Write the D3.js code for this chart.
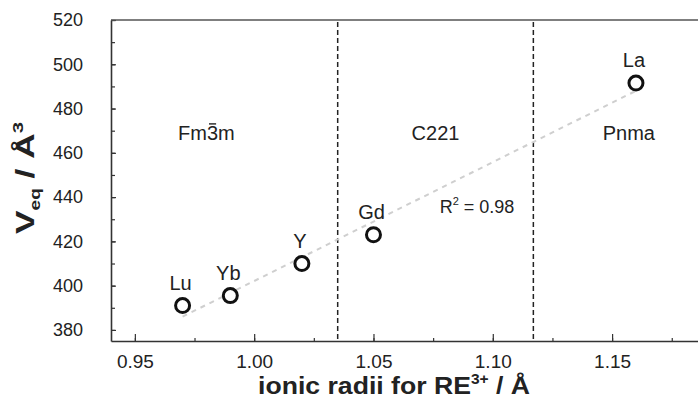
<!DOCTYPE html>
<html>
<head>
<meta charset="utf-8">
<script src="https://cdn.jsdelivr.net/npm/d3@7"></script>
<style>
  body { margin: 0; background: #fff; }
  text { font-family: "Liberation Sans", Arial, sans-serif; }
</style>
</head>
<body>
<script>
// data
let elements = ['Lu', 'Yb', 'Y', 'Gd', 'La'];
let radii = [0.97, 0.99, 1.02, 1.05, 1.16];
let volumes = [391, 395.5, 410, 423, 491.5];
let trendX = [0.97, 1.16];
let trendY = [386, 488];
let phaseBounds = [1.035, 1.117];
let phaseNames = ['Fm3m', 'C221', 'Pnma'];
let phaseX = [0.98, 1.076, 1.157];
let phaseY = [469, 469, 469];
let xTicks = [0.95, 1.00, 1.05, 1.10, 1.15];
let yTicks = [380, 400, 420, 440, 460, 480, 500, 520];

let width = 698;
let height = 405;
let svg = d3.select('body').append('svg')
    .attr('width', width)
    .attr('height', height);

let x = d3.scaleLinear().domain([0.94, 1.186]).range([111, 698]);
let y = d3.scaleLinear().domain([375, 520]).range([341, 20]);

// minor ticks
svg.append('g')
    .attr('transform', 'translate(0,341)')
    .call(d3.axisBottom(x).tickValues(d3.range(0.95, 1.186, 0.025)).tickSize(-3).tickFormat(''))
    .call(g => g.select('.domain').remove());
svg.append('g')
    .attr('transform', 'translate(111,0)')
    .call(d3.axisLeft(y).tickValues(d3.range(380, 521, 10)).tickSize(-4).tickFormat(''))
    .call(g => g.select('.domain').remove());

// major ticks + labels
let xAxis = svg.append('g')
    .attr('transform', 'translate(0,341)')
    .call(d3.axisBottom(x).tickValues(xTicks).tickSizeInner(-7).tickSizeOuter(0)
        .tickPadding(14).tickFormat(d3.format('.2f')));
xAxis.selectAll('text').attr('font-size', 19).attr('fill', '#222');

let yAxis = svg.append('g')
    .attr('transform', 'translate(111,0)')
    .call(d3.axisLeft(y).tickValues(yTicks).tickSizeInner(-5).tickSizeOuter(0).tickPadding(28));
yAxis.selectAll('text').attr('font-size', 18).attr('fill', '#222');

svg.selectAll('.domain').attr('stroke', '#333').attr('stroke-width', 1.6);
svg.selectAll('.tick line').attr('stroke', '#333').attr('stroke-width', 1.2);

// top border
svg.append('line')
    .attr('x1', x.range()[0]).attr('x2', x.range()[1])
    .attr('y1', y(520)).attr('y2', y(520))
    .attr('stroke', '#555').attr('stroke-width', 1.6);

// phase boundaries
svg.selectAll('.bound')
    .data(phaseBounds)
    .join('line')
    .attr('class', 'bound')
    .attr('x1', d => x(d)).attr('x2', d => x(d))
    .attr('y1', y(520) + 2).attr('y2', y(375))
    .attr('stroke', '#222')
    .attr('stroke-width', 1.5)
    .attr('stroke-dasharray', '5,3');

let phases = svg.selectAll('.phase')
    .data(phaseNames)
    .join('text')
    .attr('class', 'phase')
    .attr('x', (d, i) => x(phaseX[i]))
    .attr('y', (d, i) => y(phaseY[i]) + 7)
    .attr('text-anchor', 'middle')
    .attr('font-size', 20)
    .attr('fill', '#222')
    .text(d => d);

// bar over the 3 of Fm-3m
let fm = phases.nodes()[0];
let ext = fm.getExtentOfChar(2);
svg.append('line')
    .attr('x1', ext.x + 2).attr('x2', ext.x + ext.width - 2)
    .attr('y1', ext.y + 2).attr('y2', ext.y + 2)
    .attr('stroke', '#222').attr('stroke-width', 1.4);

// trend line
svg.append('path')
    .datum(trendX.map((d, i) => [d, trendY[i]]))
    .attr('d', d3.line().x(d => x(d[0])).y(d => y(d[1])))
    .attr('fill', 'none')
    .attr('stroke', '#cfcfcf')
    .attr('stroke-width', 2)
    .attr('stroke-dasharray', '5,5');

let r2 = svg.append('text')
    .attr('x', x(1.0934))
    .attr('y', y(435.5) + 6)
    .attr('text-anchor', 'middle')
    .attr('font-size', 18)
    .attr('fill', '#222');
r2.append('tspan').text('R');
r2.append('tspan').attr('font-size', 11).attr('dy', -8).text('2');
r2.append('tspan').attr('dy', 8).text(' = 0.98');

// points
svg.selectAll('.pt')
    .data(radii)
    .join('circle')
    .attr('class', 'pt')
    .attr('cx', d => x(d))
    .attr('cy', (d, i) => y(volumes[i]))
    .attr('r', 7)
    .attr('fill', '#fff')
    .attr('stroke', '#111')
    .attr('stroke-width', 3);

svg.selectAll('.ptlabel')
    .data(elements)
    .join('text')
    .attr('class', 'ptlabel')
    .attr('x', (d, i) => x(radii[i]) - 2)
    .attr('y', (d, i) => y(volumes[i]) - 16)
    .attr('text-anchor', 'middle')
    .attr('font-size', 20)
    .attr('fill', '#222')
    .text(d => d);

// axis titles
let xt = svg.append('text')
    .attr('x', 394)
    .attr('y', 394)
    .attr('text-anchor', 'middle')
    .attr('font-size', 24)
    .attr('font-weight', 'bold')
    .attr('textLength', 272)
    .attr('lengthAdjust', 'spacingAndGlyphs')
    .attr('fill', '#222');
xt.append('tspan').text('ionic radii for RE');
xt.append('tspan').attr('font-size', 14).attr('dy', -10).text('3+');
xt.append('tspan').attr('dy', 10).text(' / \u00c5');

let yt = svg.append('text')
    .attr('transform', 'translate(34,178) rotate(-90)')
    .attr('text-anchor', 'middle')
    .attr('font-size', 26)
    .attr('font-weight', 'bold')
    .attr('textLength', 112)
    .attr('lengthAdjust', 'spacingAndGlyphs')
    .attr('fill', '#222');
yt.append('tspan').text('V');
yt.append('tspan').attr('font-size', 14).attr('dy', 6).text('eq');
yt.append('tspan').attr('dy', -6).text(' / \u00c5');
yt.append('tspan').attr('font-size', 15).attr('dy', -11).text('3');
</script>
</body>
</html>
